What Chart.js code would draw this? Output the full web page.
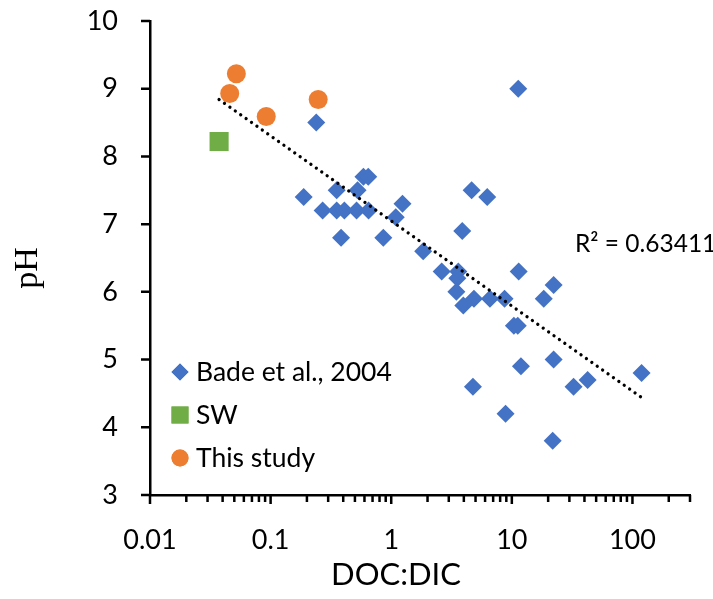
<!DOCTYPE html>
<html>
<head>
<meta charset="utf-8">
<script src="https://cdn.jsdelivr.net/npm/chart.js@4"></script>
<style>
  html, body { margin: 0; padding: 0; background: #fff; }
</style>
</head>
<body>
<canvas id="chart" width="713" height="599"></canvas>
<script>
// Bade et al., 2004
const badeX = [0.239, 0.588, 0.645, 0.188, 0.353, 0.526, 0.270, 0.353, 0.409, 0.516, 0.649,
               1.24, 1.09, 0.384, 0.86, 1.84, 4.64, 6.25, 3.88, 2.62, 3.60, 3.53, 3.47, 3.96,
               4.85, 6.58, 8.70, 11.4, 18.4, 22.2, 10.4, 11.2, 22.2, 11.9, 42.5, 32.5, 119,
               8.87, 21.8, 4.76, 11.3];
const badeY = [8.5, 7.7, 7.7, 7.4, 7.5, 7.5, 7.2, 7.2, 7.2, 7.2, 7.2,
               7.3, 7.1, 6.8, 6.8, 6.6, 7.5, 7.4, 6.9, 6.3, 6.3, 6.2, 6.0, 5.8,
               5.9, 5.9, 5.9, 6.3, 5.9, 6.1, 5.5, 5.5, 5.0, 4.9, 4.7, 4.6, 4.8,
               4.2, 3.8, 4.6, 9.0];
// SW
const swX = [0.0374];
const swY = [8.22];
// This study
const studyX = [0.052, 0.0458, 0.092, 0.248];
const studyY = [9.22, 8.93, 8.59, 8.84];
// linha de tendência (log), extremos
const trendX = [0.0374, 119];
const trendY = [8.84, 4.44];
const r2Label = 'R² = 0.63411';

const xTickValues = [0.01, 0.1, 1, 10, 100];
const xTickLabels = ['0.01', '0.1', '1', '10', '100'];
const yTickValues = [3, 4, 5, 6, 7, 8, 9, 10];

const legendItems = [
  { text: 'Bade et al., 2004', style: 'rectRot', color: '#4472C4', radius: 8.5 },
  { text: 'SW', style: 'rect', color: '#70AD47', radius: 12 },
  { text: 'This study', style: 'circle', color: '#ED7D31', radius: 8.5 }
];

function toPoints(xs, ys) {
  return xs.map((v, i) => ({ x: v, y: ys[i] }));
}

const FONT = 'Lato, "Open Sans", sans-serif';

// ticks, títulos, R² e legenda desenhados à mão
const decor = {
  id: 'decor',
  afterDraw(chart) {
    const ctx = chart.ctx;
    const xs = chart.scales.x, ys = chart.scales.y;
    const area = chart.chartArea;
    ctx.save();
    ctx.strokeStyle = '#000';
    ctx.lineWidth = 2.5;
    ctx.beginPath();
    yTickValues.forEach(v => {
      const py = ys.getPixelForValue(v);
      ctx.moveTo(area.left - 9, py);
      ctx.lineTo(area.left, py);
    });
    for (let e = -2; e <= 2; e++) {
      for (let m = 1; m <= 9; m++) {
        const v = m * Math.pow(10, e);
        if (v > xs.max * 1.0001) break;
        const px = xs.getPixelForValue(v);
        ctx.moveTo(px, area.bottom);
        ctx.lineTo(px, area.bottom + (m === 1 ? 9 : 7));
      }
    }
    ctx.stroke();

    ctx.fillStyle = '#000';
    ctx.textAlign = 'center';
    ctx.textBaseline = 'middle';
    ctx.font = '31px ' + FONT;
    ctx.fillText('DOC:DIC', 396, 575);

    ctx.save();
    ctx.translate(28, 268);
    ctx.rotate(-Math.PI / 2);
    ctx.font = '34px "Liberation Serif", "Times New Roman", serif';
    ctx.fillText('pH', 0, 0);
    ctx.restore();

    ctx.textAlign = 'left';
    ctx.font = '24.5px ' + FONT;
    ctx.fillText(r2Label, 575, 244);

    ctx.font = '26.5px ' + FONT;
    legendItems.forEach((it, i) => {
      const cy = 372 + i * 43;
      ctx.fillStyle = it.color;
      ctx.beginPath();
      Chart.helpers.drawPoint(ctx, { rotation: 0, borderWidth: 0, pointStyle: it.style, radius: it.radius }, 180, cy);
      ctx.fill();
      ctx.fillStyle = '#000';
      ctx.fillText(it.text, 196, cy);
    });
    ctx.restore();
  }
};

new Chart(document.getElementById('chart'), {
  type: 'scatter',
  data: {
    datasets: [
      {
        label: 'trend',
        data: toPoints(trendX, trendY),
        showLine: true,
        pointRadius: 0,
        borderColor: '#000',
        borderWidth: 3.3,
        borderDash: [0.01, 6.6],
        borderCapStyle: 'round',
        order: 0
      },
      {
        label: 'Bade et al., 2004',
        data: toPoints(badeX, badeY),
        pointStyle: 'rectRot',
        pointRadius: 9,
        pointBorderWidth: 0,
        backgroundColor: '#4472C4',
        borderColor: '#4472C4',
        order: 1
      },
      {
        label: 'SW',
        data: toPoints(swX, swY),
        pointStyle: 'rect',
        pointRadius: 13.5,
        pointBorderWidth: 0,
        backgroundColor: '#70AD47',
        borderColor: '#70AD47',
        order: 2
      },
      {
        label: 'This study',
        data: toPoints(studyX, studyY),
        pointStyle: 'circle',
        pointRadius: 9.5,
        pointBorderWidth: 0,
        backgroundColor: '#ED7D31',
        borderColor: '#ED7D31',
        order: 3
      }
    ]
  },
  options: {
    responsive: false,
    animation: false,
    clip: false,
    layout: { padding: { top: 21, right: 23, left: 0, bottom: 0 } },
    plugins: {
      legend: { display: false },
      tooltip: { enabled: false }
    },
    scales: {
      x: {
        type: 'logarithmic',
        min: 0.01,
        max: 300,
        afterBuildTicks: s => { s.ticks = xTickValues.map(v => ({ value: v })); },
        afterFit: s => { s.height = 104; s.paddingLeft = 0; s.paddingRight = 0; },
        grid: { drawOnChartArea: false, drawTicks: false },
        border: { color: '#000', width: 2.5 },
        ticks: {
          autoSkip: false,
          maxRotation: 0,
          padding: 29,
          color: '#000',
          font: { family: FONT, size: 27 },
          callback: v => {
            const i = xTickValues.indexOf(v);
            return i >= 0 ? xTickLabels[i] : '';
          }
        }
      },
      y: {
        min: 3,
        max: 10,
        afterFit: s => { s.width = 150; s.paddingTop = 0; s.paddingBottom = 0; },
        grid: { drawOnChartArea: false, drawTicks: false },
        border: { color: '#000', width: 2.5 },
        ticks: {
          stepSize: 1,
          padding: 32,
          color: '#000',
          font: { family: FONT, size: 27 }
        }
      }
    }
  },
  plugins: [decor]
});
</script>
</body>
</html>
